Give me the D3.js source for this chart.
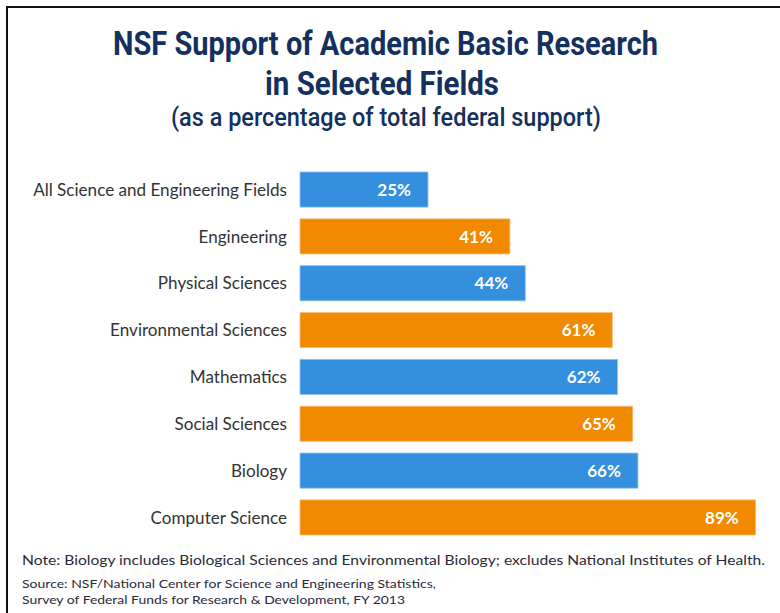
<!DOCTYPE html>
<html>
<head>
<meta charset="utf-8">
<script src="https://cdn.jsdelivr.net/npm/d3@7"></script>
<style>
  html, body { margin: 0; padding: 0; background: #fff; }
  svg { display: block; }
</style>
</head>
<body>
<svg id="chart" width="780" height="613"></svg>
<script>
// ---- data ----
const categories = [
  "All Science and Engineering Fields",
  "Engineering",
  "Physical Sciences",
  "Environmental Sciences",
  "Mathematics",
  "Social Sciences",
  "Biology",
  "Computer Science"
];
const values = [25, 41, 44, 61, 62, 65, 66, 89];
const valueLabels = ["25%", "41%", "44%", "61%", "62%", "65%", "66%", "89%"];
const titleLines = ["NSF Support of Academic Basic Research", "in Selected Fields"];
const subtitle = "(as a percentage of total federal support)";
const noteText = "Note: Biology includes Biological Sciences and Environmental Biology; excludes National Institutes of Health.";
const sourceLines = [
  "Source: NSF/National Center for Science and Engineering Statistics,",
  "Survey of Federal Funds for Research & Development, FY 2013"
];

const blue = "#3490de", orange = "#f18a00";
const navy = "#13305e";

const svg = d3.select("#chart");

// frame
svg.append("rect")
  .attr("x", 7).attr("y", 7)
  .attr("width", 900).attr("height", 900)
  .attr("fill", "none").attr("stroke", "#111").attr("stroke-width", 2);

// titles
function fitText(sel, w) {
  sel.attr("textLength", w).attr("lengthAdjust", "spacingAndGlyphs");
}
svg.append("text").text(titleLines[0])
  .attr("x", 113).attr("y", 55)
  .attr("font-family", "Roboto").attr("font-weight", 700).attr("font-size", 33.5)
  .attr("fill", navy).call(fitText, 545);
svg.append("text").text(titleLines[1])
  .attr("x", 265).attr("y", 95)
  .attr("font-family", "Roboto").attr("font-weight", 700).attr("font-size", 33.5)
  .attr("fill", navy).call(fitText, 234);
svg.append("text").text(subtitle)
  .attr("x", 171).attr("y", 126)
  .attr("font-family", "Roboto").attr("font-weight", 500).attr("font-size", 26.5)
  .attr("fill", navy).call(fitText, 430);

// scales
const x = d3.scaleLinear().domain([0, 100]).range([300, 812]);
const y = d3.scaleBand().domain(categories).range([172, 535])
  .paddingInner(0.25).paddingOuter(0);

const rows = categories.map((c, i) => ({ c, v: values[i], lab: valueLabels[i], i }));

svg.append("g").selectAll("rect").data(rows).join("rect")
  .attr("x", x(0))
  .attr("y", d => y(d.c))
  .attr("width", d => x(d.v) - x(0))
  .attr("height", y.bandwidth())
  .attr("fill", d => d.i % 2 === 0 ? blue : orange)
  .attr("stroke", d => d.i % 2 === 0 ? "#8cc3ef" : "#f8c07a")
  .attr("stroke-width", 0.8);

// category labels
const catG = svg.append("g");
const catText = catG.selectAll("text").data(rows).join("text")
  .attr("x", 287)
  .attr("y", d => y(d.c) + y.bandwidth() / 2)
  .attr("dy", "0.36em")
  .attr("text-anchor", "end")
  .attr("font-family", "Lato")
  .attr("font-size", 16)
  .attr("fill", "#333")
  .text(d => d.c);
// scale font so the longest label matches the reference width
const longest = catText.nodes()[0].getComputedTextLength();
catText.attr("font-size", 16 * 254 / longest);

// value labels
svg.append("g").selectAll("text").data(rows).join("text")
  .attr("x", d => x(d.v) - 17)
  .attr("y", d => y(d.c) + y.bandwidth() / 2)
  .attr("dy", "0.36em")
  .attr("text-anchor", "end")
  .attr("font-family", "Lato")
  .attr("font-weight", 700)
  .attr("font-size", 17)
  .attr("fill", "#fff")
  .text(d => d.lab);

// notes
svg.append("text").text(noteText)
  .attr("x", 22).attr("y", 565)
  .attr("font-family", "Lato").attr("font-size", 14)
  .attr("fill", "#2a2a3a").call(fitText, 743);
svg.append("text").text(sourceLines[0])
  .attr("x", 22).attr("y", 588)
  .attr("font-family", "Lato").attr("font-size", 12)
  .attr("fill", "#2a2a3a").call(fitText, 414);
svg.append("text").text(sourceLines[1])
  .attr("x", 22).attr("y", 604)
  .attr("font-family", "Lato").attr("font-size", 12)
  .attr("fill", "#2a2a3a").call(fitText, 383);
</script>
</body>
</html>
